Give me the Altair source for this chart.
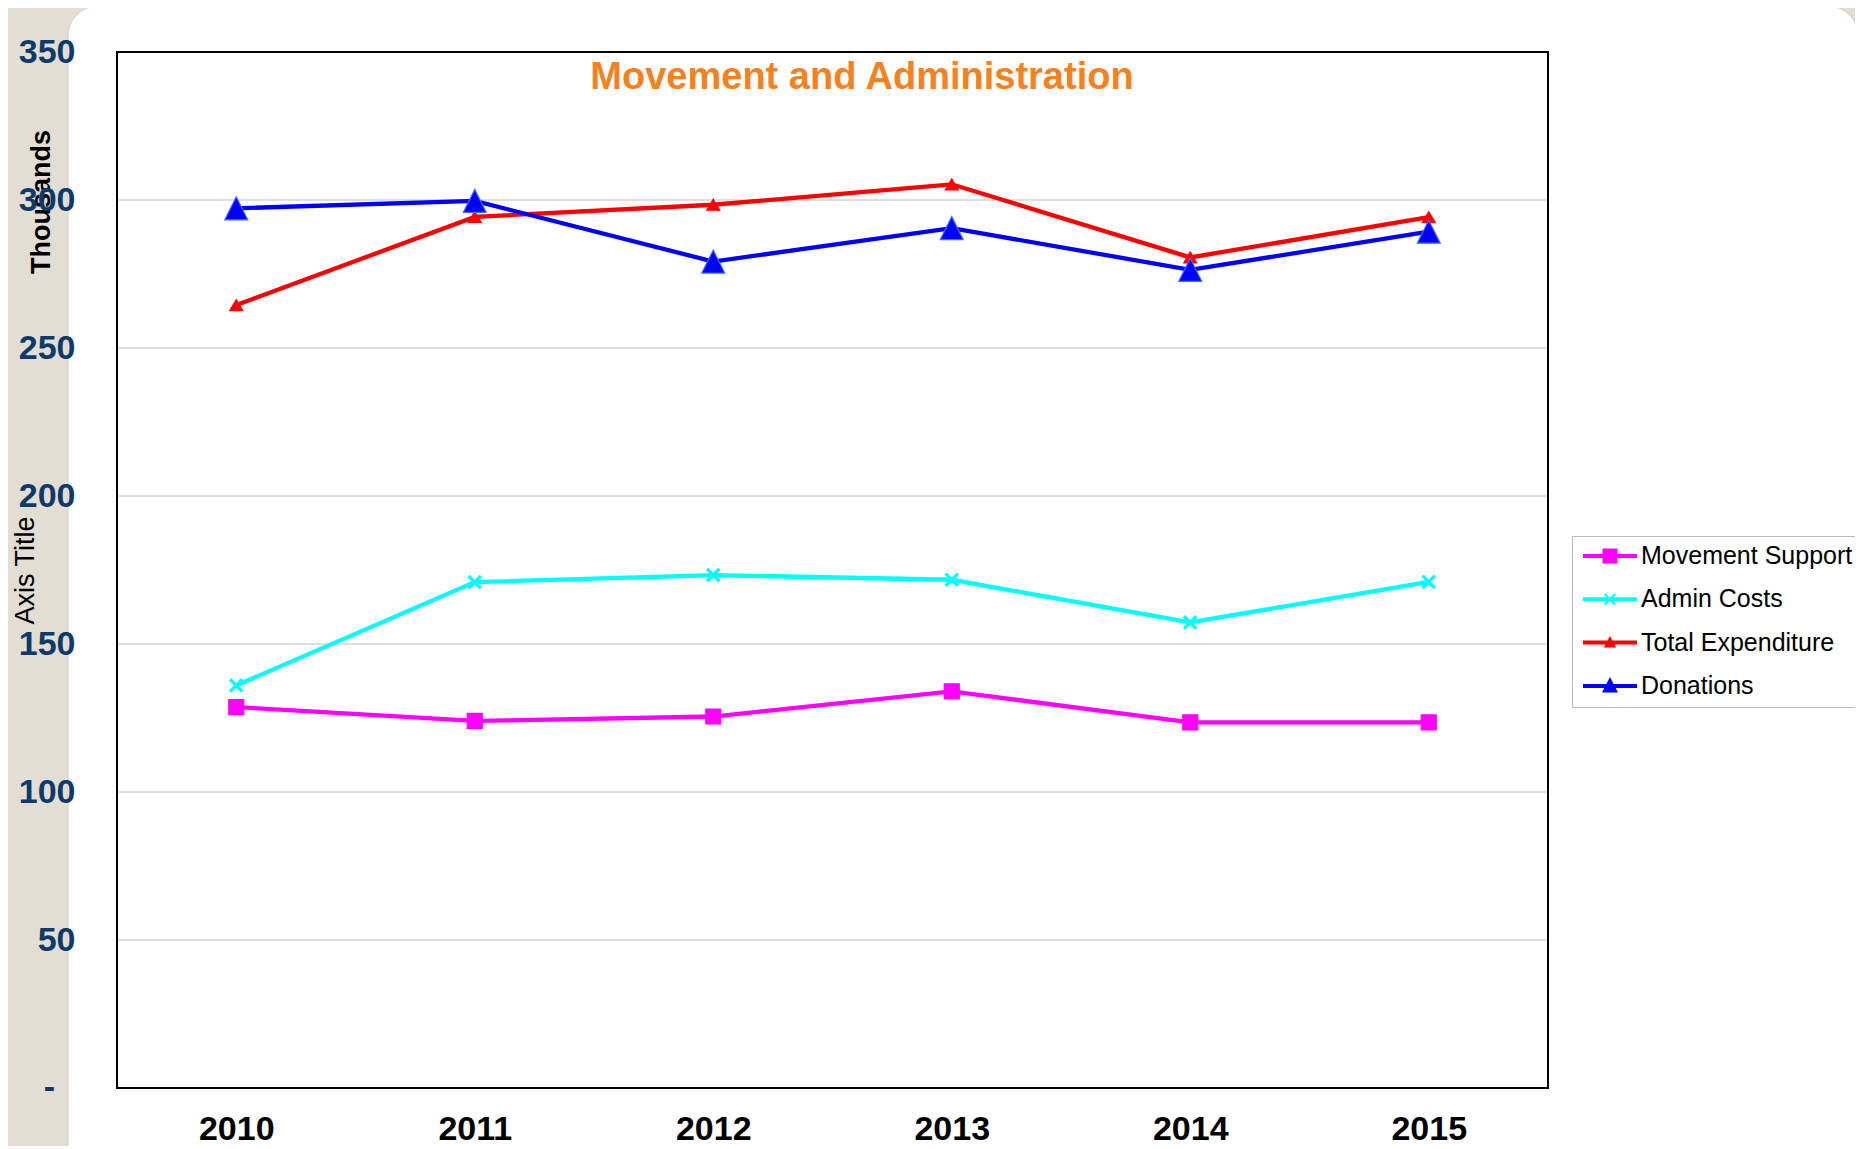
import altair as alt
import pandas as pd

# ---------------- data ----------------
years = ["2010", "2011", "2012", "2013", "2014", "2015"]
series_names = ["Movement Support", "Admin Costs", "Total Expenditure", "Donations"]
movement_support = [128.7, 124.0, 125.5, 134.0, 123.5, 123.5]
admin_costs = [136.0, 170.9, 173.3, 171.7, 157.3, 171.0]
total_expenditure = [264.5, 294.3, 298.4, 305.3, 280.6, 294.2]
donations = [297.2, 299.7, 279.2, 290.5, 276.4, 289.3]
y_ticks = [0, 50, 100, 150, 200, 250, 300, 350]
grid_values = [50, 100, 150, 200, 250, 300]
zero_label = ["-"]
title_text = ["Movement and Administration"]
units_text = ["Thousands"]
y_title = "Axis Title"

# ---------------- styles ----------------
series_colors = ["#FF00FF", "#00FFFF", "#FF0000", "#0000FF"]
edge_colors = ["#FF00FF", "#00FFFF", "#FF0000", "#3F6BFF"]
point_paths = [
    "M-1.5,-1.5L1.5,-1.5L1.5,1.5L-1.5,1.5Z",
    "M-1.3,-1L-1,-1.3L1.3,1L1,1.3ZM-1.3,1L1,-1.3L1.3,-1L-1,1.3Z",
    "M0,-1.1L1.3,1.1L-1.3,1.1Z",
    "M0,-2.3L2.3,2.3L-2.3,2.3Z",
]
seg = "M-2.7,-0.2L2.7,-0.2L2.7,0.2L-2.7,0.2Z"
legend_paths = [
    seg + "M-0.75,-0.75L0.75,-0.75L0.75,0.75L-0.75,0.75Z",
    seg + "M-0.6,-0.45L-0.45,-0.6L0.6,0.45L0.45,0.6ZM-0.6,0.45L0.45,-0.6L0.6,-0.45L-0.45,0.6Z",
    seg + "M0,-0.65L0.62,0.5L-0.62,0.5Z",
    seg + "M0,-0.9L0.8,0.65L-0.8,0.65Z",
]

FONT = "Liberation Sans"
W, H = 1431, 1036
LABEL_COLOR = "#0E3A6B"

rows = []
for name, vals in zip(series_names, [movement_support, admin_costs, total_expenditure, donations]):
    for yr, v in zip(years, vals):
        rows.append({"Year": yr, "Series": name, "Value": v})
df = pd.DataFrame(rows)
grid_df = pd.DataFrame({"Value": grid_values})
zero_df = pd.DataFrame({"Value": [0], "label": zero_label})
one = pd.DataFrame({"a": [0]})
title_df = pd.DataFrame({"label": title_text})
units_df = pd.DataFrame({"label": units_text})

x_axis = alt.Axis(
    title=None, labelAngle=0, labelFontSize=34, labelFontWeight="bold",
    labelColor="black", labelPadding=24, ticks=False, domain=False, grid=False,
    zindex=1, labelFont=FONT,
)
y_axis = alt.Axis(
    values=y_ticks, title=y_title, titleFontSize=27, titleFontWeight="normal",
    titleColor="black", titleFont=FONT, titleX=-84, titleY=H / 2,
    titleBaseline="alphabetic", labelFontSize=34, labelFontWeight="bold",
    labelColor=LABEL_COLOR, labelPadding=42, labelFont=FONT, ticks=False,
    domain=False, grid=False, zindex=1,
    labelExpr="datum.value == 0 ? '' : format(datum.value, 'd')",
)
x_enc = alt.X("Year:N", scale=alt.Scale(type="point", padding=0.5, domain=years), axis=x_axis)
y_enc = alt.Y("Value:Q", scale=alt.Scale(domain=[0, 350], nice=False, zero=True), axis=y_axis)

color_scale = alt.Scale(domain=series_names, range=series_colors)

panel = alt.Chart(one).mark_rect(
    fill="white", stroke="#D2CDC2", strokeWidth=1, cornerRadius=30
).encode(x=alt.value(-49), x2=alt.value(1741), y=alt.value(-46), y2=alt.value(1140))

grid = alt.Chart(grid_df).mark_rule(color="#C0C0C0", strokeWidth=1).encode(y=y_enc)

frame = alt.Chart(one).mark_rect(
    filled=False, stroke="black", strokeWidth=2
).encode(x=alt.value(0), x2=alt.value(W), y=alt.value(0), y2=alt.value(H))

zero_mark = alt.Chart(zero_df).mark_text(
    fontSize=34, fontWeight="bold", color=LABEL_COLOR, font=FONT,
    align="right", baseline="middle",
).encode(x=alt.value(-62), y=y_enc, text="label:N")

lines = alt.Chart(df).mark_line(strokeWidth=4.3).encode(
    x=x_enc, y=y_enc,
    color=alt.Color("Series:N", scale=color_scale, legend=None),
    detail="Series:N",
)

points = alt.Chart(df).mark_point(filled=True, size=100, strokeWidth=1.2, opacity=1).encode(
    x=x_enc, y=y_enc,
    color=alt.Color("Series:N", scale=color_scale, legend=None),
    stroke=alt.Stroke("Series:N", scale=alt.Scale(domain=series_names, range=edge_colors), legend=None),
    shape=alt.Shape("Series:N", scale=alt.Scale(domain=series_names, range=point_paths), legend=None),
)

leg = alt.Legend(
    orient="none", legendX=1455, legendY=484, title=None,
    labelFontSize=25, labelFont=FONT, labelColor="black", labelLimit=0,
    symbolSize=400, symbolStrokeWidth=0, symbolOffset=18, labelOffset=18.5,
    padding=7.5, rowPadding=17.3, strokeColor="#BBBBBB", fillColor="white",
    symbolOpacity=1,
)
legend_layer = alt.Chart(df).mark_point(filled=True, size=400, opacity=0).encode(
    x=x_enc, y=y_enc,
    color=alt.Color("Series:N", scale=color_scale, legend=leg),
    shape=alt.Shape("Series:N", scale=alt.Scale(domain=series_names, range=legend_paths), legend=leg),
)

title_mark = alt.Chart(title_df).mark_text(
    fontSize=38, fontWeight="bold", color="#F5821F", font=FONT,
    align="center", baseline="alphabetic",
).encode(x=alt.value(745), y=alt.value(37), text="label:N")

units_mark = alt.Chart(units_df).mark_text(
    fontSize=27, fontWeight="bold", color="black", font=FONT, angle=270,
    align="center", baseline="alphabetic",
).encode(x=alt.value(-67), y=alt.value(150), text="label:N")

chart = alt.layer(
    panel, grid, frame, zero_mark, lines, points, legend_layer, title_mark, units_mark
).resolve_scale(
    color="independent", shape="independent", stroke="independent"
).properties(
    width=W, height=H,
    autosize=alt.AutoSizeParams(type="none"),
    padding={"left": 109, "top": 44, "right": 307, "bottom": 58},
    background="#E3DED4",
).configure_view(stroke=None).configure(font=FONT)

chart.save("out.html", embed_options={"renderer": "svg", "actions": False})
